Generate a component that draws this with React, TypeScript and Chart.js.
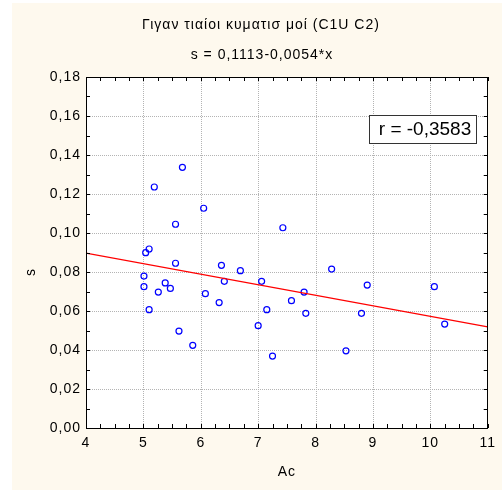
import React, { useEffect, useRef } from "react";
import { Chart, registerables } from "chart.js";

Chart.register(...registerables);

const titleLine1 = "Γιγαν τιαίοι κυματισ μοί (C1U C2)";
const titleLine2 = "s = 0,1113-0,0054*x";
const xTitle = "Ac";
const yTitle = "s";
const rLabel = "r = -0,3583";

const xVals = [
  5.68, 5.19, 6.05, 5.56, 7.43, 5.04, 5.1, 5.56, 6.36, 6.69, 5.01, 5.01,
  5.38, 5.47, 5.26, 6.41, 7.06, 6.08, 6.32, 5.1, 7.15, 7.58, 7.0, 5.62,
  5.86, 7.25, 7.8, 7.83, 8.28, 8.53, 8.8, 8.9, 10.07, 10.25,
];
const yVals = [
  0.1337, 0.1236, 0.1127, 0.1045, 0.1027, 0.0899, 0.0918, 0.0845, 0.0834,
  0.0807, 0.0779, 0.0725, 0.0744, 0.0716, 0.0697, 0.0752, 0.0752, 0.0689,
  0.0643, 0.0607, 0.0607, 0.0653, 0.0525, 0.0497, 0.0424, 0.0369, 0.0697,
  0.0588, 0.0815, 0.0396, 0.0588, 0.0733, 0.0725, 0.0533,
];
const lineX = [4, 11];
const lineY = [0.0897, 0.0519];

const FONT = '"Liberation Sans", Arial, sans-serif';

const decorPlugin = {
  id: "decor",
  beforeDraw(chart: any) {
    const { ctx, chartArea } = chart;
    ctx.save();
    ctx.fillStyle = "#FEF9EE";
    ctx.fillRect(12, 3, 490, 487);
    ctx.fillStyle = "#FFFFFF";
    ctx.fillRect(
      chartArea.left,
      chartArea.top,
      chartArea.right - chartArea.left,
      chartArea.bottom - chartArea.top
    );
    ctx.restore();
    (ctx as any).letterSpacing = "1px";
  },
  beforeDatasetsDraw(chart: any) {
    const { ctx, chartArea, scales } = chart;
    const { left, right, top, bottom } = chartArea;
    ctx.save();
    ctx.strokeStyle = "#B4B4B4";
    ctx.lineWidth = 1;
    ctx.setLineDash([1, 1]);
    ctx.beginPath();
    scales.x.ticks.forEach((t: any) => {
      const px = Math.round(scales.x.getPixelForValue(t.value)) + 0.5;
      if (px <= left + 1 || px >= right - 1) return;
      ctx.moveTo(px, top);
      ctx.lineTo(px, bottom);
    });
    scales.y.ticks.forEach((t: any) => {
      const py = Math.round(scales.y.getPixelForValue(t.value)) + 0.5;
      if (py <= top + 1 || py >= bottom - 1) return;
      ctx.moveTo(left, py);
      ctx.lineTo(right, py);
    });
    ctx.stroke();
    ctx.restore();
  },
  afterDraw(chart: any) {
    const { ctx, chartArea, scales } = chart;
    const { left, right, top, bottom } = chartArea;
    ctx.save();
    ctx.strokeStyle = "#000000";
    ctx.lineWidth = 1;
    ctx.strokeRect(Math.round(left) + 0.5, Math.round(top) + 0.5, Math.round(right - left) - 1, Math.round(bottom - top));
    ctx.beginPath();
    const xs = scales.x;
    const ys = scales.y;
    for (let v = 4; v <= 11.0001; v += 0.25) {
      const px = Math.round(xs.getPixelForValue(v)) + 0.5;
      ctx.moveTo(px, top);
      ctx.lineTo(px, top + 4);
      ctx.moveTo(px, bottom);
      ctx.lineTo(px, bottom - 4);
    }
    for (let v = 0; v <= 0.18001; v += 0.01) {
      const py = Math.round(ys.getPixelForValue(v)) + 0.5;
      ctx.moveTo(left, py);
      ctx.lineTo(left + 4, py);
      ctx.moveTo(right, py);
      ctx.lineTo(right - 4, py);
    }
    ctx.stroke();

    ctx.fillStyle = "#000000";
    ctx.textAlign = "center";
    ctx.textBaseline = "middle";
    (ctx as any).letterSpacing = "1px";
    ctx.font = `14px ${FONT}`;
    ctx.fillText(titleLine1, 261, 25);
    ctx.fillText(titleLine2, 262, 55);
    ctx.fillText(xTitle, (left + right) / 2, 472);
    ctx.save();
    ctx.translate(31, 272);
    ctx.rotate(-Math.PI / 2);
    ctx.fillText(yTitle, 0, 0);
    ctx.restore();

    (ctx as any).letterSpacing = "0px";
    ctx.fillStyle = "#FFFFFF";
    ctx.fillRect(369.5, 115.5, 107, 28);
    ctx.strokeStyle = "#333333";
    ctx.lineWidth = 1;
    ctx.strokeRect(369.5, 115.5, 107, 28);
    ctx.fillStyle = "#000000";
    ctx.font = `19px ${FONT}`;
    ctx.fillText(rLabel, 425, 130);
    ctx.restore();
  },
};

export default function App() {
  const ref = useRef<HTMLCanvasElement | null>(null);
  useEffect(() => {
    document.body.style.margin = "0";
    const canvas = ref.current!;
    const points = xVals.map((x, i) => ({ x, y: yVals[i] }));
    const line = lineX.map((x, i) => ({ x, y: lineY[i] }));
    const chart = new Chart(canvas, {
      type: "scatter",
      data: {
        datasets: [
          {
            type: "line",
            data: line,
            borderColor: "#FF0000",
            borderWidth: 1.2,
            pointRadius: 0,
            fill: false,
          } as any,
          {
            data: points,
            borderColor: "#0000FF",
            backgroundColor: "rgba(0,0,0,0)",
            pointRadius: 3,
            pointBorderWidth: 1.2,
          },
        ],
      },
      options: {
        animation: false,
        responsive: false,
        devicePixelRatio: 1,
        layout: { padding: { left: 0, top: 77, right: 9, bottom: 0 } },
        plugins: {
          legend: { display: false },
          tooltip: { enabled: false },
          title: { display: false },
        },
        scales: {
          x: {
            type: "linear",
            min: 4,
            max: 11,
            afterFit: (s: any) => {
              s.height = 65;
            },
            ticks: {
              stepSize: 1,
              color: "#000000",
              padding: 7,
              font: { family: FONT, size: 14 },
              callback: (v: any) => String(v),
            },
            grid: { display: false, drawTicks: false },
            border: { display: false },
          },
          y: {
            type: "linear",
            min: 0,
            max: 0.18,
            afterFit: (s: any) => {
              s.width = 86;
            },
            ticks: {
              stepSize: 0.02,
              color: "#000000",
              padding: 5,
              font: { family: FONT, size: 14 },
              callback: (v: any) => Number(v).toFixed(2).replace(".", ","),
            },
            grid: { display: false, drawTicks: false },
            border: { display: false },
          },
        },
      },
      plugins: [decorPlugin],
    });
    return () => chart.destroy();
  }, []);
  return (
    <div style={{ position: "absolute", left: 0, top: 0, width: 502, height: 493 }}>
      <canvas ref={ref} width={502} height={493} style={{ width: 502, height: 493 }} />
    </div>
  );
}
